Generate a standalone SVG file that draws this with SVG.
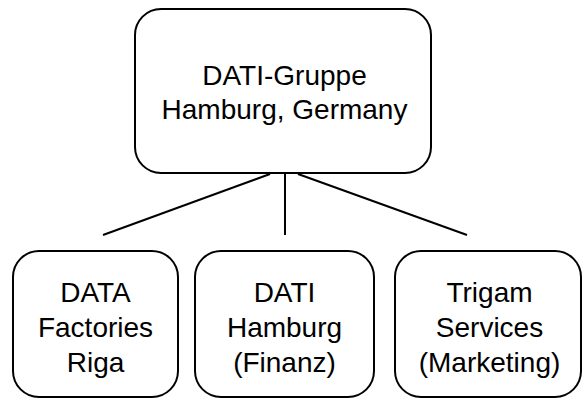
<svg xmlns="http://www.w3.org/2000/svg" width="583" height="398" viewBox="0 0 583 398">
<style>
.box{fill:#fff;stroke:#000;stroke-width:2}
.lbl{font-family:"Liberation Sans",Arial,sans-serif;font-size:28px;fill:#000;text-anchor:middle}
.conn{stroke:#000;stroke-width:2;fill:none}
</style>
<rect width="583" height="398" fill="#fff"/>
<g id="connectors">
<line class="conn" x1="270" y1="174" x2="103" y2="235"/>
<line class="conn" x1="285" y1="174" x2="285" y2="235"/>
<line class="conn" x1="298" y1="174" x2="467" y2="235"/>
</g>
<g id="top">
<rect class="box" x="135" y="9" width="296" height="164" rx="26" ry="26"/>
<text class="lbl" x="284.5" y="85">DATI-Gruppe</text>
<text class="lbl" x="284.5" y="119">Hamburg, Germany</text>
</g>
<g id="riga">
<rect class="box" x="13" y="251" width="165" height="146" rx="26" ry="26"/>
<text class="lbl" x="95.5" y="302">DATA</text>
<text class="lbl" x="95.5" y="337">Factories</text>
<text class="lbl" x="95.5" y="372">Riga</text>
</g>
<g id="hamburg">
<rect class="box" x="195" y="251" width="179" height="146" rx="26" ry="26"/>
<text class="lbl" x="284.5" y="302">DATI</text>
<text class="lbl" x="284.5" y="337">Hamburg</text>
<text class="lbl" x="284.5" y="372">(Finanz)</text>
</g>
<g id="trigam">
<rect class="box" x="395" y="251" width="186" height="146" rx="26" ry="26"/>
<text class="lbl" x="489.5" y="302">Trigam</text>
<text class="lbl" x="489.5" y="337">Services</text>
<text class="lbl" x="489.5" y="372">(Marketing)</text>
</g>
</svg>
